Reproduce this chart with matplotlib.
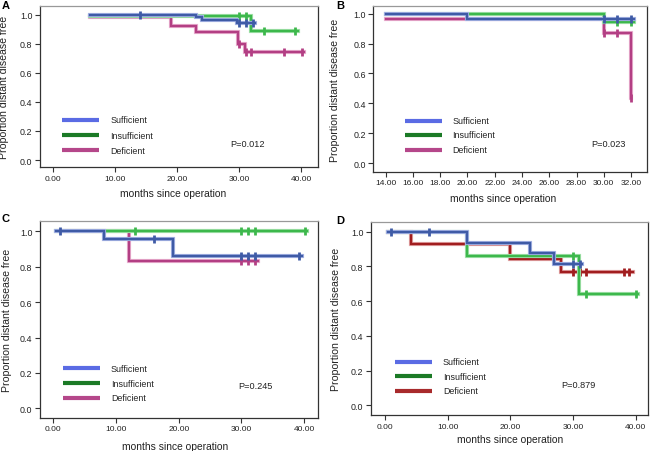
import numpy as np
import matplotlib
matplotlib.use('Agg')
import matplotlib.pyplot as plt
from matplotlib.ticker import FormatStrFormatter

plt.rcParams['font.family'] = ['Liberation Sans', 'DejaVu Sans']

# ---- data (step times, survival after each step, end time, censor times)
groups = ['Sufficient', 'Insufficient', 'Deficient']
p_values = ['P=0.012', 'P=0.023', 'P=0.245', 'P=0.879']
panel_letters = ['A', 'B', 'C', 'D']

# panel A
a_suff_t = [6, 23, 24, 29.7]
a_suff_s = [1.0, 0.98, 0.966, 0.945]
a_suff_end = 32.6
a_suff_c = [14, 30, 31.1, 32.2]
a_insuf_t = [6, 31.9]
a_insuf_s = [0.99, 0.89]
a_insuf_end = 39.6
a_insuf_c = [30, 31.1, 34, 39.1]
a_def_t = [6, 19, 23, 29.8, 30.9]
a_def_s = [0.98, 0.922, 0.881, 0.80, 0.743]
a_def_end = 40.5
a_def_c = [30, 31.1, 32, 37.3, 40.2]

# panel B
b_suff_t = [14, 20]
b_suff_s = [1.0, 0.968]
b_suff_end = 32.2
b_suff_c = [30, 31, 32]
b_insuf_t = [14, 30]
b_insuf_s = [1.0, 0.947]
b_insuf_end = 32.2
b_insuf_c = [31, 32]
b_def_t = [14, 30, 32]
b_def_s = [0.968, 0.87, 0.435]
b_def_end = 32.0
b_def_c = [30, 31, 32]

# panel C
c_suff_t = [0.5, 8.1, 19.1]
c_suff_s = [1.0, 0.955, 0.86]
c_suff_end = 39.7
c_suff_c = [1, 16.1, 30, 31.1, 32.2, 39.1]
c_insuf_t = [0.5]
c_insuf_s = [1.0]
c_insuf_end = 40.4
c_insuf_c = [13.1, 30, 31.1, 32.2, 40.1]
c_def_t = [1, 12.1]
c_def_s = [1.0, 0.834]
c_def_end = 32.7
c_def_c = [30, 31.1, 32.2]

# panel D
d_suff_t = [0.5, 13.1, 23.2, 27.0]
d_suff_s = [1.0, 0.935, 0.875, 0.815]
d_suff_end = 31.5
d_suff_c = [1, 7.1, 30, 31.1]
d_insuf_t = [0.5, 13.1, 31.0]
d_insuf_s = [1.0, 0.857, 0.643]
d_insuf_end = 40.3
d_insuf_c = [30, 32, 40.1]
d_def_t = [0.5, 4.1, 19.9, 28.1]
d_def_s = [1.0, 0.927, 0.845, 0.768]
d_def_end = 39.6
d_def_c = [30, 31.1, 32, 38.1, 38.9]

panels = [
    [(a_suff_t, a_suff_s, a_suff_end, a_suff_c),
     (a_insuf_t, a_insuf_s, a_insuf_end, a_insuf_c),
     (a_def_t, a_def_s, a_def_end, a_def_c)],
    [(b_suff_t, b_suff_s, b_suff_end, b_suff_c),
     (b_insuf_t, b_insuf_s, b_insuf_end, b_insuf_c),
     (b_def_t, b_def_s, b_def_end, b_def_c)],
    [(c_suff_t, c_suff_s, c_suff_end, c_suff_c),
     (c_insuf_t, c_insuf_s, c_insuf_end, c_insuf_c),
     (c_def_t, c_def_s, c_def_end, c_def_c)],
    [(d_suff_t, d_suff_s, d_suff_end, d_suff_c),
     (d_insuf_t, d_insuf_s, d_insuf_end, d_insuf_c),
     (d_def_t, d_def_s, d_def_end, d_def_c)],
]

x_ticks = [np.arange(0, 41, 10), np.arange(14, 33, 2),
           np.arange(0, 41, 10), np.arange(0, 41, 10)]
y_ticks = np.arange(0, 1.01, 0.2)

# ---- layout (pixels measured on the 650x452 picture)
W, H = 650, 452
boxes = [(40, 7.3, 318.3, 168.3), (373.3, 7.3, 646.7, 172.7),
         (40, 221.7, 318, 418.7), (371, 223.3, 648.3, 416)]
xlims = [(-2.15, 42.8), (13.09, 33.15), (-2.12, 42.2), (-2.23, 42.0)]
ylims = [(-0.05, 1.057), (-0.058, 1.05), (-0.053, 1.06), (-0.056, 1.054)]
ylab_x = [-0.11, -0.122, -0.10, -0.108]
xlab_pos = [(0.478, -0.13), (0.476, -0.131), (0.487, -0.118), (0.501, -0.10)]
leg_x = [(0.079, 0.212, 0.252), (0.116, 0.25, 0.29),
         (0.084, 0.216, 0.255), (0.087, 0.221, 0.259)]
leg_y = [(0.294, 0.20, 0.107), (0.308, 0.224, 0.133),
         (0.251, 0.176, 0.102), (0.277, 0.201, 0.126)]
p_pos = [(0.683, 0.145), (0.796, 0.172), (0.713, 0.161), (0.686, 0.159)]
letter_pos = [(2, 1), (336, 1), (2, 214), (336, 216)]

km_colors = [['#3f5ba6', '#3db84c', '#b33f84'],
             ['#3f5ba6', '#3db84c', '#b33f84'],
             ['#3f5ba6', '#3db84c', '#b33f84'],
             ['#3f5ba6', '#3db84c', '#a11d1f']]
halo_colors = [['#a9b6e6', '#a6e2ae', '#eab3d2'],
               ['#a9b6e6', '#a6e2ae', '#eab3d2'],
               ['#a9b6e6', '#a6e2ae', '#eab3d2'],
               ['#a9b6e6', '#a6e2ae', '#e3a9a9']]
leg_colors = [['#5a6be4', '#1b7a26', '#b5478a'],
              ['#5a6be4', '#1b7a26', '#b5478a'],
              ['#5a6be4', '#1b7a26', '#b5478a'],
              ['#5a6be4', '#1b7a26', '#a82a2c']]
# blue drawn on top, then green, then the deficient group
layer = [3.0, 2.6, 2.2]

fig = plt.figure(figsize=(W / 100, H / 100), dpi=100)

for i in range(4):
    x0, y0, x1, y1 = boxes[i]
    ax = fig.add_axes([x0 / W, (H - y1) / H, (x1 - x0) / W, (y1 - y0) / H])

    for g in range(3):
        t, s, end, cens = panels[i][g]
        xs = list(t) + [end]
        ys = list(s) + [s[-1]]
        z = layer[g]
        ax.step(xs, ys, where='post', color=halo_colors[i][g], lw=3.0,
                solid_joinstyle='miter', zorder=z)
        ax.step(xs, ys, where='post', color=km_colors[i][g], lw=1.7,
                solid_joinstyle='miter', zorder=z + 0.1)
        idx = np.searchsorted(np.array(t), np.array(cens), side='right') - 1
        cy = np.array(s)[idx]
        ax.plot(cens, cy, ls='none', marker='|', ms=6, mew=2.0,
                color=km_colors[i][g], zorder=z + 0.2)

    # legend drawn by hand like the original
    lx0, lx1, tx = leg_x[i]
    for g in range(3):
        ax.plot([lx0, lx1], [leg_y[i][g]] * 2, transform=ax.transAxes,
                color=leg_colors[i][g], lw=3.0, solid_capstyle='butt')
        ax.text(tx, leg_y[i][g], groups[g], transform=ax.transAxes,
                fontsize=6.4, va='center', ha='left', color='#222222')
    ax.text(p_pos[i][0], p_pos[i][1], p_values[i], transform=ax.transAxes,
            fontsize=6.6, va='center', ha='left', color='#222222')

    ax.set_xlim(*xlims[i])
    ax.set_ylim(*ylims[i])
    ax.set_xticks(x_ticks[i])
    ax.set_yticks(y_ticks)
    ax.xaxis.set_major_formatter(FormatStrFormatter('%.2f'))
    ax.yaxis.set_major_formatter(FormatStrFormatter('%.1f'))
    ax.tick_params(direction='out', length=3.5, width=0.8,
                   pad=2, colors='#333333', labelcolor='#222222')
    ax.tick_params(axis='x', labelsize=6.0)
    ax.tick_params(axis='y', labelsize=6.4)

    for side in ['left', 'bottom', 'right']:
        ax.spines[side].set_color('#333333')
        ax.spines[side].set_linewidth(0.9)
    ax.spines['top'].set_color('#999999')
    ax.spines['top'].set_linewidth(0.9)

    ax.set_ylabel('Proportion distant disease free', fontsize=7.6, color='#222222')
    ax.yaxis.set_label_coords(ylab_x[i], 0.5)
    ax.set_xlabel('months since operation', fontsize=7.4, color='#222222')
    ax.xaxis.set_label_coords(*xlab_pos[i])

    fig.text(letter_pos[i][0] / W, 1 - letter_pos[i][1] / H, panel_letters[i],
             fontsize=8, fontweight='bold', va='top', ha='left')

fig.savefig('out.png', dpi=100)
